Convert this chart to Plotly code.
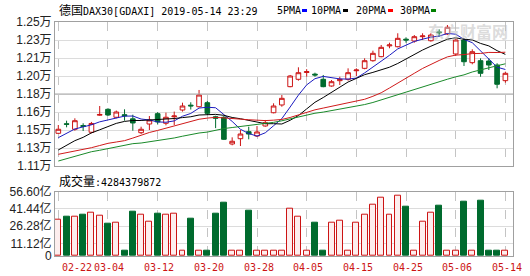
import plotly.graph_objects as go

# ---------------- data ----------------
x_tick_idx = [0, 6, 12, 18, 24, 30, 36, 42, 48, 54]
x_tick_text = ['02-22', '03-04', '03-12', '03-20', '03-28', '04-05', '04-15', '04-25', '05-06', '05-14']

opens = [11420, 11512, 11459, 11495, 11430, 11595, 11652, 11575, 11600, 11560,
         11426, 11510, 11610, 11517, 11580, 11645, 11692, 11677, 11716, 11580,
         11575, 11317, 11368, 11436, 11394, 11491, 11619, 11694, 11871, 11942,
         12008, 11992, 11942, 11877, 11929, 11942, 12025, 12048, 12122, 12161,
         12265, 12257, 12330, 12312, 12354, 12315, 12400, 12380, 12187, 12322,
         12103, 12122, 12119, 12080, 11929]
highs = [11500, 11542, 11565, 11517, 11530, 11684, 11662, 11640, 11652, 11600,
         11484, 11587, 11625, 11620, 11630, 11716, 11720, 11839, 11732, 11590,
         11587, 11381, 11452, 11484, 11490, 11549, 11710, 11790, 11984, 12058,
         12040, 12006, 11984, 11935, 11967, 12048, 12048, 12145, 12219, 12274,
         12296, 12387, 12348, 12370, 12387, 12387, 12425, 12467, 12338, 12338,
         12232, 12145, 12145, 12097, 12016]
lows = [11415, 11478, 11445, 11442, 11420, 11588, 11588, 11565, 11542, 11445,
        11413, 11452, 11505, 11497, 11500, 11630, 11650, 11670, 11597, 11470,
        11355, 11304, 11297, 11362, 11385, 11484, 11613, 11677, 11865, 11929,
        11967, 11967, 11865, 11871, 11887, 11929, 11974, 12039, 12112, 12155,
        12242, 12251, 12296, 12296, 12322, 12306, 12354, 12370, 12167, 12071,
        12087, 11967, 12032, 11855, 11909]
closes = [11459, 11507, 11542, 11487, 11515, 11602, 11597, 11626, 11590, 11520,
          11459, 11549, 11530, 11575, 11587, 11684, 11685, 11790, 11613, 11565,
          11362, 11343, 11413, 11413, 11433, 11523, 11684, 11758, 11974, 12006,
          12016, 11984, 11871, 11919, 11942, 12006, 12032, 12122, 12193, 12251,
          12274, 12338, 12322, 12354, 12361, 12370, 12393, 12445, 12322, 12112,
          12209, 12000, 12080, 11894, 12000]

ma5 = [11378, 11419, 11462, 11482, 11502, 11531, 11549, 11565, 11586, 11587,
       11558, 11549, 11530, 11527, 11540, 11585, 11612, 11664, 11672, 11667,
       11603, 11535, 11459, 11418, 11393, 11425, 11493, 11562, 11674, 11789,
       11888, 11948, 11970, 11959, 11946, 11944, 11954, 12004, 12059, 12121,
       12174, 12236, 12276, 12308, 12330, 12349, 12360, 12385, 12378, 12328,
       12296, 12218, 12145, 12059, 12037]
ma10 = [11259, 11308, 11349, 11381, 11424, 11454, 11484, 11516, 11535, 11544,
        11544, 11549, 11547, 11556, 11563, 11572, 11580, 11597, 11599, 11603,
        11594, 11573, 11561, 11545, 11530, 11513, 11513, 11510, 11546, 11591,
        11656, 11720, 11766, 11817, 11868, 11916, 11951, 11987, 12009, 12034,
        12059, 12095, 12140, 12183, 12225, 12262, 12298, 12330, 12343, 12329,
        12323, 12289, 12265, 12219, 12183]
ma20 = [11217, 11232, 11248, 11263, 11281, 11302, 11323, 11336, 11349, 11374,
        11402, 11428, 11448, 11469, 11494, 11513, 11532, 11556, 11567, 11574,
        11569, 11561, 11554, 11551, 11547, 11543, 11547, 11554, 11573, 11597,
        11625, 11647, 11664, 11681, 11699, 11715, 11732, 11749, 11778, 11812,
        11858, 11908, 11953, 12000, 12047, 12089, 12124, 12159, 12176, 12181,
        12191, 12192, 12202, 12201, 12204]
ma30 = [11152, 11176, 11200, 11221, 11242, 11256, 11272, 11290, 11307, 11320,
        11326, 11338, 11348, 11361, 11375, 11392, 11409, 11423, 11432, 11450,
        11466, 11476, 11486, 11494, 11506, 11513, 11526, 11541, 11560, 11580,
        11598, 11614, 11625, 11639, 11654, 11667, 11682, 11698, 11718, 11743,
        11770, 11796, 11822, 11848, 11874, 11897, 11921, 11943, 11966, 11985,
        12013, 12035, 12057, 12073, 12092]

volume = [31.8, 34.8, 34.8, 36.5, 38.0, 35.6, 28.6, 29.2, 4.3, 38.9,
          36.5, 30.1, 37.4, 36.2, 37.1, 4.3, 32.7, 4.3, 4.3, 37.4,
          46.9, 4.3, 4.3, 40.1, 4.3, 4.3, 4.3, 4.3, 41.5, 34.2,
          4.3, 29.5, 4.3, 28.9, 31.5, 4.3, 28.9, 36.2, 45.1, 51.0,
          36.2, 53.0, 43.3, 4.3, 29.8, 37.7, 44.5, 4.3, 4.3, 47.7,
          4.3, 48.6, 4.3, 4.3, 4.3]

price_tickvals = [11104, 11278, 11452, 11626, 11800, 11974, 12148, 12322, 12496]
price_ticktext = ['1.11万', '1.13万', '1.15万', '1.16万', '1.18万', '1.20万', '1.21万', '1.23万', '1.25万']
vol_tickvals = [0, 11.12, 26.28, 41.44, 56.60]
vol_ticktext = ['0', '11.12亿', '26.28亿', '41.44亿', '56.60亿']

title_text = '德国DAX30[GDAXI] 2019-05-14 23:29'
vol_text = '成交量:4284379872'
legend_names = ['5PMA', '10PMA', '20PMA', '30PMA']

# ---------------- style ----------------
W, H = 530, 276
ML, MR, MT, MB = 55, 17, 22, 20
RED = '#cc1414'
GREEN = '#006b2e'
MA_COLORS = ['#1c1cc0', '#000000', '#d01a1a', '#1a8a2a']
LEGEND_COLORS = ['#0000ff', '#000000', '#ff0000', '#008000']
PINK = '#fdeeee'
MONO = 'DejaVu Sans Mono, Noto Sans CJK SC'

def px2x(px):
    return (px - ML) / (W - ML - MR)

def py2y(py):
    return (H - MB - py) / (H - MT - MB)

xs = list(range(len(closes)))
up = [c >= o for o, c in zip(opens, closes)]

fig = go.Figure()

# darker middle gridline of the price panel (drawn first, under the marks)
fig.add_trace(go.Scatter(x=[-0.4, 54.92], y=[price_tickvals[4]] * 2, mode='lines',
                         line=dict(color='#a8a8a8', width=1), xaxis='x', yaxis='y',
                         showlegend=False, hoverinfo='skip'))

fig.add_trace(go.Candlestick(
    x=xs, open=opens, high=highs, low=lows, close=closes,
    xaxis='x', yaxis='y',
    increasing=dict(line=dict(color=RED, width=1), fillcolor='#ffffff'),
    decreasing=dict(line=dict(color=GREEN, width=1), fillcolor=GREEN),
    whiskerwidth=0, hoverinfo='skip', showlegend=False))

for name, vals, col in zip(legend_names, [ma5, ma10, ma20, ma30], MA_COLORS):
    fig.add_trace(go.Scatter(x=xs, y=vals, mode='lines', name=name,
                             line=dict(color=col, width=1),
                             xaxis='x', yaxis='y', showlegend=False, hoverinfo='skip'))

fig.add_trace(go.Bar(
    x=xs, y=volume, xaxis='x2', yaxis='y2', width=0.72,
    marker=dict(color=[PINK if u else GREEN for u in up],
                line=dict(color=[RED if u else GREEN for u in up], width=1)),
    showlegend=False, hoverinfo='skip'))

price_bottom = py2y(166)
vol_top = py2y(191.7)

axis_common = dict(showline=True, mirror=True, linecolor='#a0a0a0', linewidth=1,
                   zeroline=False, ticks='', automargin=False)

shapes = []
annotations = []
annotations.append(dict(text='<span style="font-size:12px">德国</span>' + title_text[2:],
                        xref='paper', yref='paper', x=px2x(57), y=py2y(10.5),
                        xanchor='left', yanchor='middle', showarrow=False,
                        font=dict(family=MONO, size=10, color='#000000')))
annotations.append(dict(text='<span style="font-size:12px">成交量</span>' + vol_text[3:],
                        xref='paper', yref='paper', x=px2x(57), y=py2y(181),
                        xanchor='left', yanchor='middle', showarrow=False,
                        font=dict(family=MONO, size=10, color='#000000')))

legend_text_x = [275, 309, 354, 398]
legend_mark_x = [302, 343, 388, 431]
for name, tx, mx, col in zip(legend_names, legend_text_x, legend_mark_x, LEGEND_COLORS):
    annotations.append(dict(text=name, xref='paper', yref='paper', x=px2x(tx), y=py2y(10.5),
                            xanchor='left', yanchor='middle', showarrow=False,
                            font=dict(family=MONO, size=10, color='#000000')))
    shapes.append(dict(type='rect', xref='paper', yref='paper',
                       x0=px2x(mx), x1=px2x(mx + 5), y0=py2y(12), y1=py2y(9),
                       fillcolor=col, line=dict(width=0)))

for i, (idx, lab) in enumerate(zip(x_tick_idx, x_tick_text)):
    annotations.append(dict(text=lab, xref='x2', yref='paper', x=idx, y=py2y(267.5),
                            xanchor='left' if i == 0 else 'center', yanchor='middle',
                            xshift=1.5, showarrow=False,
                            font=dict(family=MONO, size=10, color='#cc1414')))

# watermark
annotations.append(dict(text='<b>东方财富网</b>', xref='paper', yref='paper', x=px2x(468), y=py2y(31),
                        xanchor='center', yanchor='middle', showarrow=False,
                        font=dict(family='Noto Sans CJK SC', size=16, color='rgba(190,190,190,0.55)')))

fig.update_layout(
    width=W, height=H,
    margin=dict(l=ML, r=MR, t=MT, b=MB, pad=0),
    paper_bgcolor='white', plot_bgcolor='white',
    showlegend=False, boxgap=0.2, bargap=0,
    xaxis=dict(domain=[0, 1], anchor='y', range=[-0.4, 54.92],
               tickvals=x_tick_idx, showticklabels=False,
               showgrid=True, gridcolor='#c4c4c4', griddash='dash', gridwidth=1,
               rangeslider=dict(visible=False), **axis_common),
    yaxis=dict(domain=[price_bottom, 1], anchor='x', range=[11104, 12496],
               tickvals=price_tickvals, ticktext=price_ticktext,
               showgrid=True, gridcolor='#dcdcdc', gridwidth=1,
               tickfont=dict(family='Liberation Sans, Noto Sans CJK SC', size=12, color='#222222'),
               **axis_common),
    xaxis2=dict(domain=[0, 1], anchor='y2', range=[-0.4, 54.92],
                tickvals=x_tick_idx, showticklabels=False,
                showgrid=True, gridcolor='#c4c4c4', griddash='dash', gridwidth=1,
                **axis_common),
    yaxis2=dict(domain=[0, vol_top], anchor='x2', range=[0, 56.6],
                tickvals=vol_tickvals, ticktext=vol_ticktext,
                showgrid=True, gridcolor='#dcdcdc', gridwidth=1,
                tickfont=dict(family='Liberation Sans, Noto Sans CJK SC', size=12, color='#222222'),
                **axis_common),
    shapes=shapes,
    annotations=annotations,
)

fig.write_html('out.html')
